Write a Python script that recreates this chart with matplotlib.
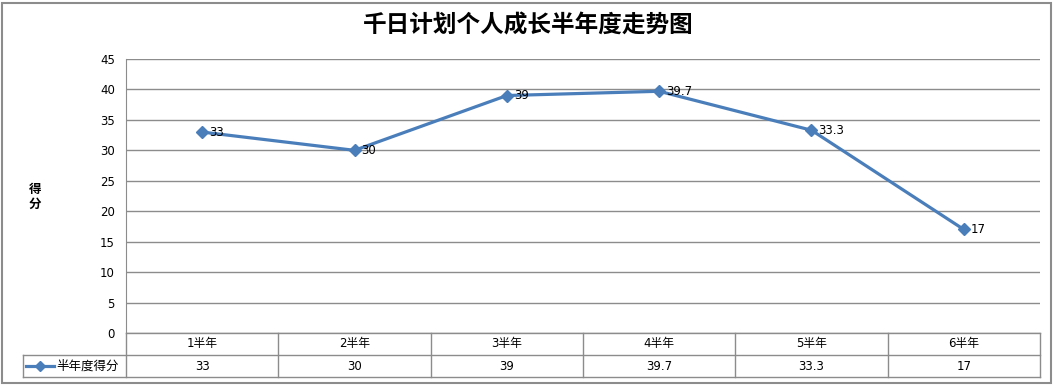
import matplotlib
matplotlib.use("Agg")
from matplotlib import pyplot as plt
from matplotlib.patches import Rectangle

plt.rcParams['font.family'] = ['DejaVu Sans', 'Noto Sans CJK SC']

categories = ['1半年', '2半年', '3半年', '4半年', '5半年', '6半年']
scores = [33, 30, 39, 39.7, 33.3, 17]
score_labels = ['33', '30', '39', '39.7', '33.3', '17']
series_name = '半年度得分'
title = '千日计划个人成长半年度走势图'

W, H = 1057, 385
line_color = '#4A7EBB'
grid_color = '#8C8C8C'

fig = plt.figure(figsize=(W / 100, H / 100), dpi=100)

# outer frame
fig.patches.append(Rectangle((2 / W, 2 / H), 1049 / W, 380 / H, transform=fig.transFigure,
                             fill=False, edgecolor='#8C8C8C', linewidth=1.5))

left, right, top, bottom = 126, 1040, 59, 333
ax = fig.add_axes([left / W, (H - bottom) / H, (right - left) / W, (bottom - top) / H])
x = list(range(len(categories)))
ax.plot(x, scores, color=line_color, linewidth=2.3, marker='D', markersize=6,
        markerfacecolor=line_color, markeredgecolor=line_color)
for xi, yi, lab in zip(x, scores, score_labels):
    ax.annotate(lab, (xi, yi), xytext=(5, 0), textcoords='offset points',
                va='center', ha='left', fontsize=8.5)
ax.set_xlim(-0.5, len(categories) - 0.5)
ax.set_ylim(0, 45)
ax.set_yticks(range(0, 46, 5))
ax.set_xticks([])
ax.tick_params(axis='y', length=0, labelsize=8.5, pad=8)
ax.yaxis.grid(True, color=grid_color, linewidth=1)
ax.set_axisbelow(True)
for s in ['top', 'right', 'bottom']:
    ax.spines[s].set_visible(False)
ax.spines['left'].set_color(grid_color)

fig.text(35 / W, 1 - 197 / H, '得\n分', fontsize=9, fontweight='bold',
         ha='center', va='center', linespacing=1.2)
fig.text(528 / W, 1 - 26 / H, title, fontsize=17, fontweight='bold',
         ha='center', va='center', family=['Noto Sans CJK SC'])

# data table under the chart
row_h = 22
tax = fig.add_axes([left / W, (H - bottom - 2 * row_h) / H, (right - left) / W, 2 * row_h / H])
tax.set_xlim(-0.5, len(categories) - 0.5)
tax.set_ylim(0, 2)
tax.axis('off')
col_w = (right - left) / len(categories)
leg_left = -0.5 - (left - 23) / col_w
kw = dict(color=grid_color, linewidth=1, clip_on=False)
tax.plot([-0.5, len(categories) - 0.5], [2, 2], **kw)
tax.plot([leg_left, len(categories) - 0.5], [1, 1], **kw)
tax.plot([leg_left, len(categories) - 0.5], [0, 0], **kw)
tax.plot([leg_left, leg_left], [0, 1], **kw)
for b in range(len(categories) + 1):
    tax.plot([b - 0.5, b - 0.5], [0, 2], **kw)
for xi, cat, lab in zip(x, categories, score_labels):
    tax.text(xi, 1.5, cat, ha='center', va='center', fontsize=8.5)
    tax.text(xi, 0.5, lab, ha='center', va='center', fontsize=8.5)
lx0 = leg_left + 3 / col_w
lx1 = leg_left + 31 / col_w
tax.plot([lx0, lx1], [0.5, 0.5], color=line_color, linewidth=2.3, clip_on=False)
tax.plot([(lx0 + lx1) / 2], [0.5], marker='D', markersize=5, color=line_color, clip_on=False)
tax.text(lx1 + 2 / col_w, 0.5, series_name, ha='left', va='center', fontsize=9)

fig.savefig('out.png', dpi=100)
